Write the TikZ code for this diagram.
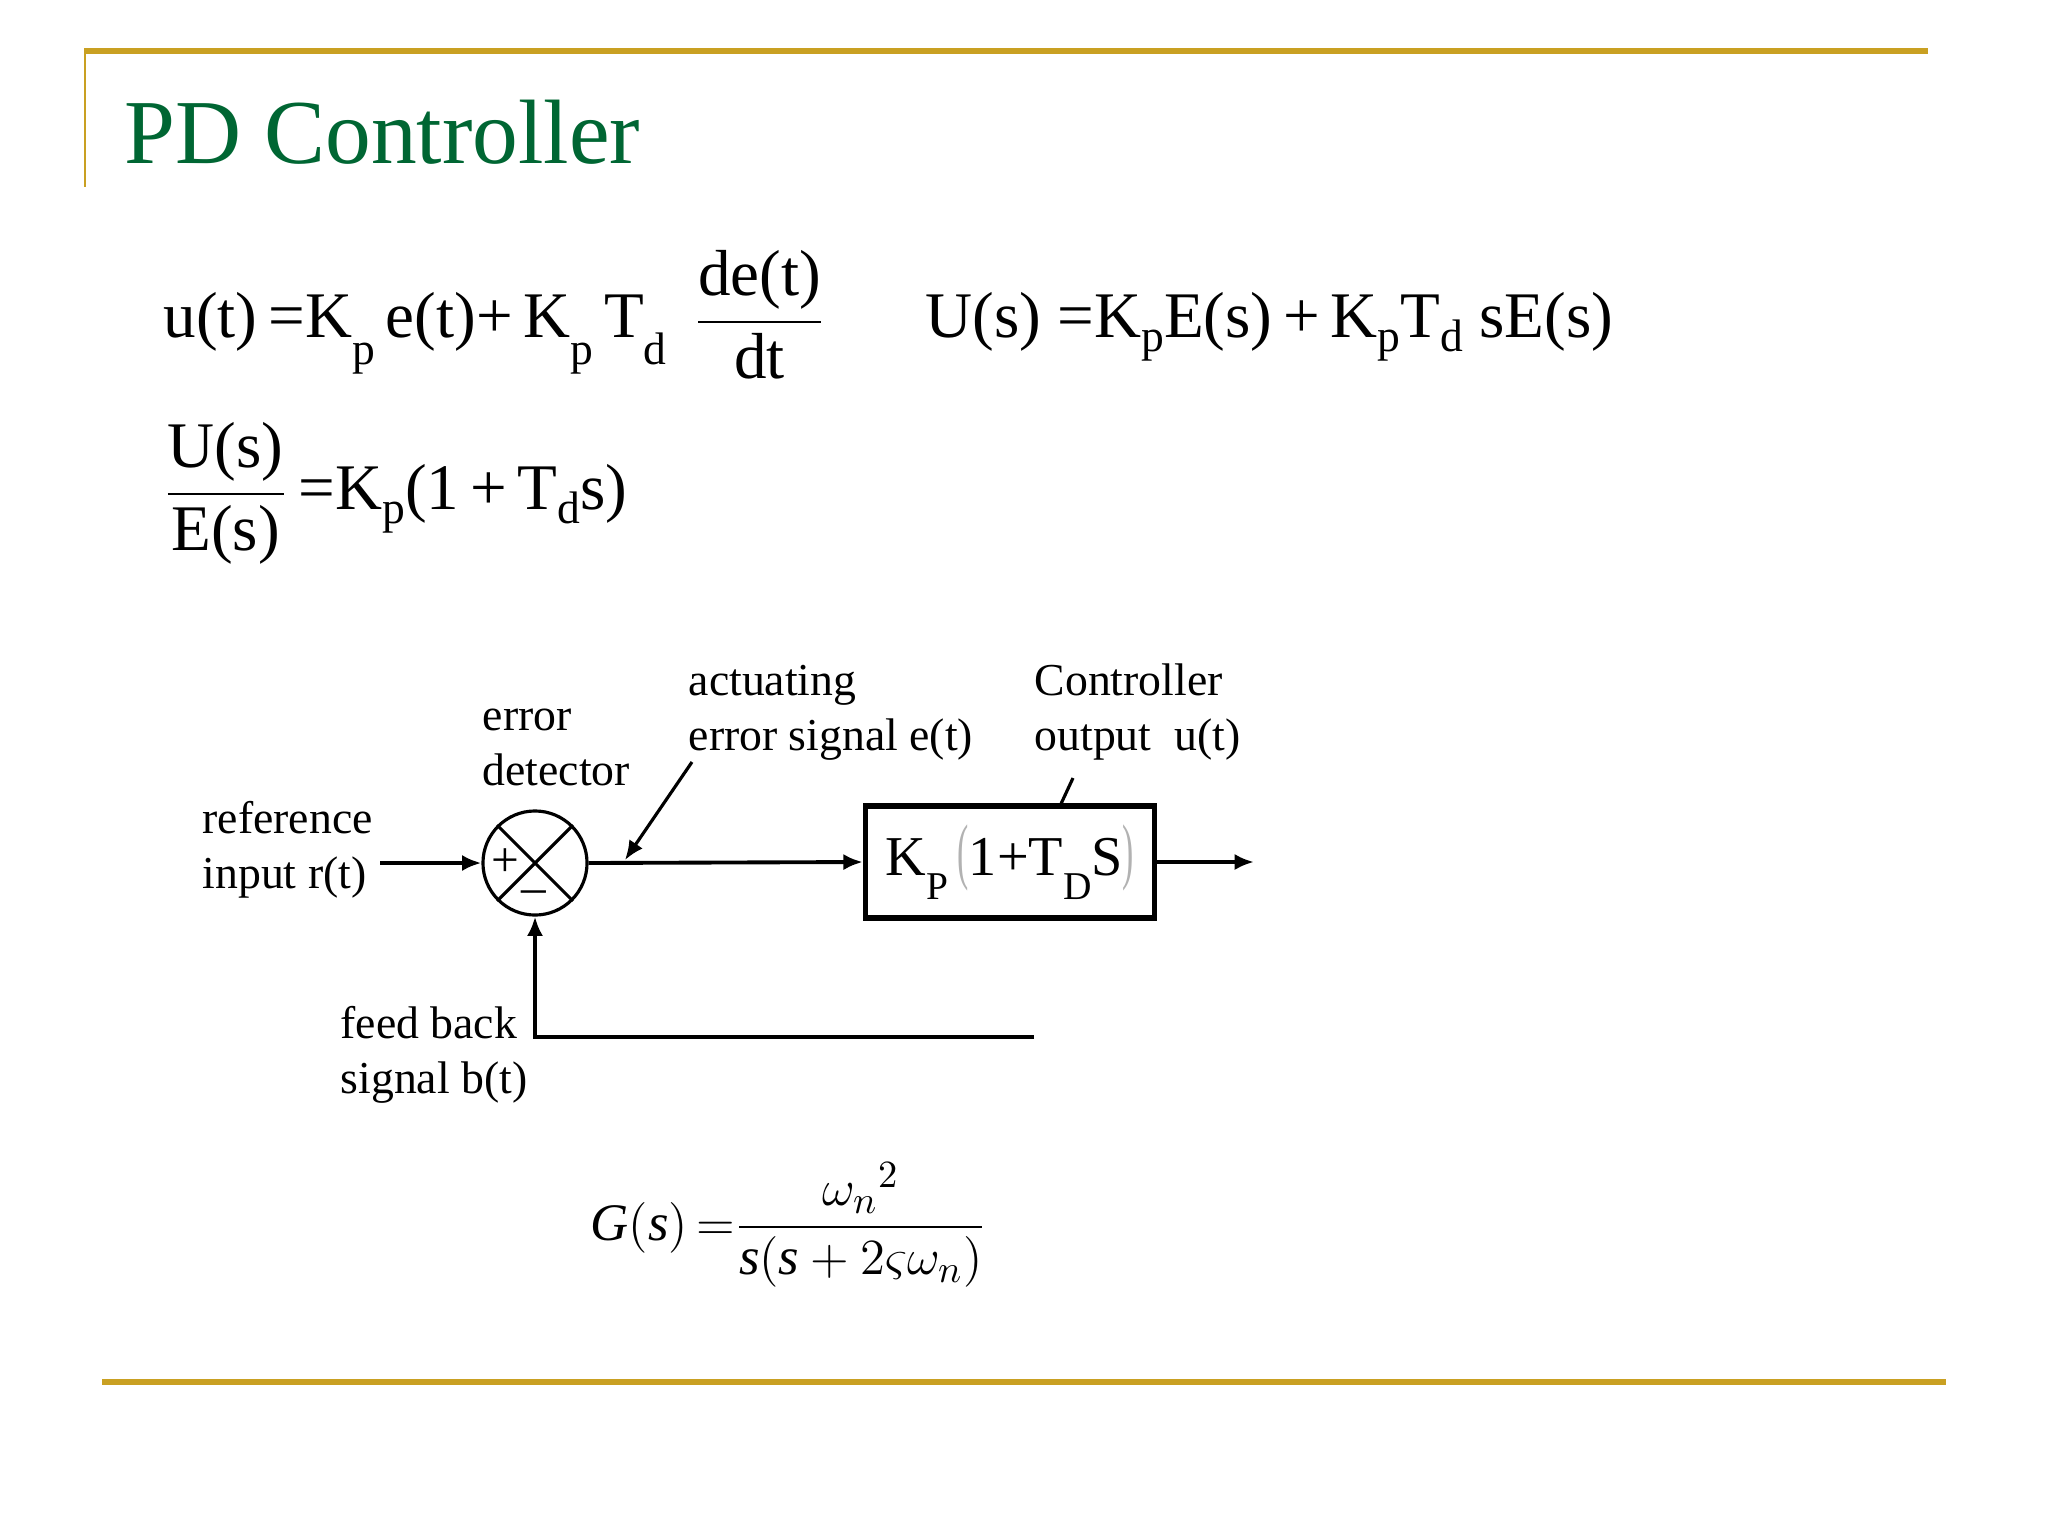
\documentclass[tikz,border=0pt]{standalone}
\usepackage{fontspec}
\setmainfont{Liberation Serif}
\usepackage{amsmath}
\usepackage{graphicx}
\usepackage{xcolor}
\usetikzlibrary{arrows.meta,calc}
\definecolor{slidegold}{RGB}{201,160,34}
\definecolor{titlegreen}{RGB}{0,102,51}
\newcommand{\dsub}[1]{\raisebox{-0.42em}{\scalebox{0.7}{#1}}}
\newcommand{\ssub}[1]{\raisebox{-0.22em}{\scalebox{0.7}{#1}}}

\begin{document}
\begin{tikzpicture}[x=0.01cm,y=-0.01cm,>={Latex[length=5.5pt,width=4.6pt]},
  eqn/.style={anchor=base west,inner sep=0pt,font=\fontsize{18.5}{22}\selectfont},
  lbl/.style={anchor=base west,inner sep=0pt,align=left,font=\fontsize{13}{15.6}\selectfont},
  sig/.style={line width=1.1pt}]
  \useasboundingbox (0,0) rectangle (2048,1536);
  % slide frame and title
  \draw[slidegold,line width=1.5pt] (84,51) -- (1928,51);
  \draw[slidegold,line width=0.8pt] (85,51) -- (85,187);
  \draw[slidegold,line width=1.5pt] (102,1382) -- (1946,1382);
  \node[anchor=base west,inner sep=0pt,text=titlegreen,font=\fontsize{26}{30}\selectfont] (title) at (124,163) {PD Controller};
  % equations
  \node[eqn] (timeeq) at (163,337) {u(t)\,=K\dsub{p}\,e(t)+\,K\dsub{p}\,T\dsub{d}\, $\dfrac{\text{de(t)}}{\text{dt}}$};
  \node[eqn] (laplaceeq) at (925,337) {U(s) =K\ssub{p}E(s)\,+\,K\ssub{p}T\ssub{d} sE(s)};
  \node[eqn] (tfeq) at (163,509) {$\dfrac{\text{U(s)}}{\text{E(s)}}$\,=K\ssub{p}(1\,+\,T\ssub{d}s)};
  % block diagram
  \node[draw,circle,minimum size=1.04cm,inner sep=0pt,line width=0.9pt] (sum) at (535,863) {};
  \draw[line width=0.9pt] (sum.north west) -- (sum.south east) (sum.north east) -- (sum.south west);
  \node[font=\fontsize{14}{16}\selectfont,inner sep=0pt] (plus) at (505,863) {+};
  \node[font=\fontsize{14}{16}\selectfont,inner sep=0pt] (minus) at (534,897) {--};
  \node[draw,line width=1.5pt,minimum width=2.89cm,minimum height=1.12cm,inner sep=0pt,
    font=\fontsize{16}{19}\selectfont] (ctrl) at (1010,862)
    {K\dsub{P}\,{\color{gray!60}\scalebox{0.6}[1.3]{(}}1+T\dsub{D}S{\color{gray!60}\scalebox{0.6}[1.3]{)}}};
  \coordinate (rin) at (380,863);
  \coordinate (uout) at (1254,862);
  \coordinate (fb) at (1034,1037);
  \coordinate (etail) at (692,762);
  \coordinate (etip) at (625,860);
  \coordinate (utail) at (1073,778);
  \coordinate (utip) at (1060,806);
  \draw[sig,->] (rin) -- (sum.west);
  \draw[sig,->] (sum.east) -- (ctrl.west);
  \draw[sig,->] (ctrl.east) -- (uout);
  \draw[sig,->] (fb) -| (sum.south);
  \draw[line width=0.9pt,->] (etail) -- (etip);
  \draw[line width=0.9pt] (utail) -- (utip);
  % labels (base = last line)
  \node[lbl] (reflbl) at (202,888) {reference\\input r(t)};
  \node[lbl] (errlbl) at (482,785) {error\\detector};
  \node[lbl] (actlbl) at (688,750) {actuating\\error signal e(t)};
  \node[lbl] (outlbl) at (1034,750) {Controller\\output\enspace u(t)};
  \node[lbl] (fblbl) at (340,1093) {feed back\\signal b(t)};
  % plant
  \node[anchor=base west,inner sep=0pt,font=\fontsize{15}{18}\selectfont] (plant) at (590,1240)
    {$\mathit{G}(\mathit{s})\,{=}\dfrac{\omega_n{}^2}{\mathit{s}(\mathit{s}+2\varsigma\omega_n)}$};
\end{tikzpicture}
\end{document}
